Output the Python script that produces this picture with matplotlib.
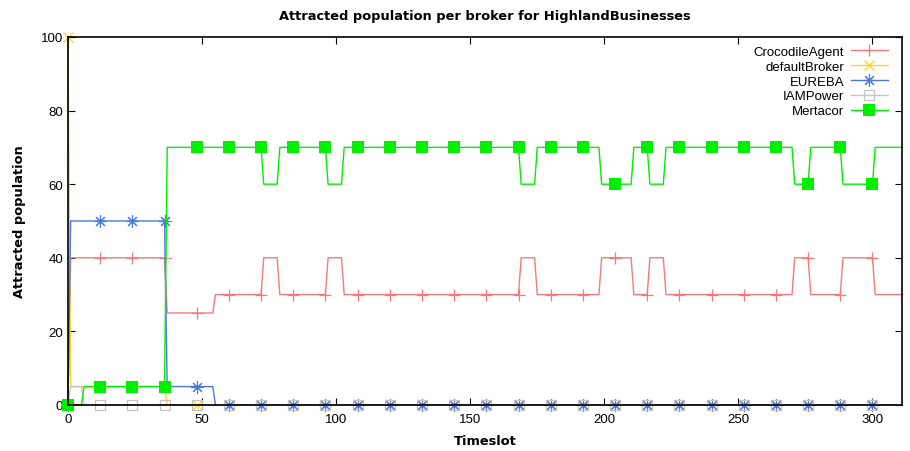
import numpy as np
import matplotlib
matplotlib.use("Agg")
import matplotlib.pyplot as plt

# timeslots 0..311
timeslots = np.arange(0, 312)

# change points: (first timeslot, value)
crocodile_steps = [(0, 0), (1, 40), (37, 25), (55, 30), (73, 40), (79, 30), (97, 40), (103, 30),
                   (169, 40), (175, 30), (199, 40), (211, 30), (217, 40), (223, 30),
                   (271, 40), (277, 30), (289, 40), (301, 30)]
default_steps = [(0, 100), (1, 5), (37, 0)]
eureba_steps = [(0, 0), (1, 50), (37, 5), (55, 0)]
iampower_steps = [(0, 0), (1, 5), (6, 0)]
mertacor_steps = [(0, 0), (6, 5), (37, 70), (73, 60), (79, 70), (97, 60), (103, 70),
                  (169, 60), (175, 70), (199, 60), (211, 70), (217, 60), (223, 70),
                  (271, 60), (277, 70), (289, 60), (301, 70)]


def expand(steps):
    vals = np.zeros(len(timeslots))
    for start, v in steps:
        vals[timeslots >= start] = v
    return vals


series = [
    ("CrocodileAgent", crocodile_steps, "#f47a7a", dict(marker="+", ms=9, mew=0.9)),
    ("defaultBroker", default_steps, "#ffd21f", dict(marker="x", ms=7, mew=0.9)),
    ("EUREBA", eureba_steps, "#4a78e0", dict(marker=(8, 2, 0), ms=9, mew=0.8)),
    ("IAMPower", iampower_steps, "#c4c4c4", dict(marker="s", ms=7, mew=0.9, mfc="none")),
    ("Mertacor", mertacor_steps, "#00ee00", dict(marker="s", ms=8, mew=0)),
]

fig = plt.figure(figsize=(9.1, 4.52), dpi=100)
ax = fig.add_axes([0.0747, 0.1018, 0.9165, 0.8142])

for name, steps, color, style in series:
    ax.plot(timeslots, expand(steps), color=color, lw=1.0, label=name,
            markevery=12, clip_on=False, **style)

ax.set_xlim(0, 311)
ax.set_ylim(0, 100)
ax.set_xticks(range(0, 301, 50))
ax.set_yticks(range(0, 101, 20))
ax.tick_params(direction="in", top=True, right=True, length=5, labelsize=9.5)
ax.tick_params(axis="x", pad=6)
for lab in ax.get_xticklabels() + ax.get_yticklabels():
    lab.set_family("Liberation Sans")
for s in ax.spines.values():
    s.set_linewidth(1.2)

ax.set_title("Attracted population per broker for HighlandBusinesses",
             fontsize=9.4, fontweight="bold", family="DejaVu Sans", pad=13)
ax.set_xlabel("Timeslot", fontsize=9.4, fontweight="bold", family="DejaVu Sans", labelpad=6)
ax.set_ylabel("Attracted population", fontsize=9.4, fontweight="bold", family="DejaVu Sans", labelpad=11)

ax.legend(loc="upper right", bbox_to_anchor=(0.993, 1.0), frameon=False, markerfirst=False,
          prop={"family": "Liberation Sans", "size": 9.5},
          handlelength=2.8, labelspacing=0.2, borderaxespad=0.25, handletextpad=0.5)

fig.savefig("out.png", dpi=100)
